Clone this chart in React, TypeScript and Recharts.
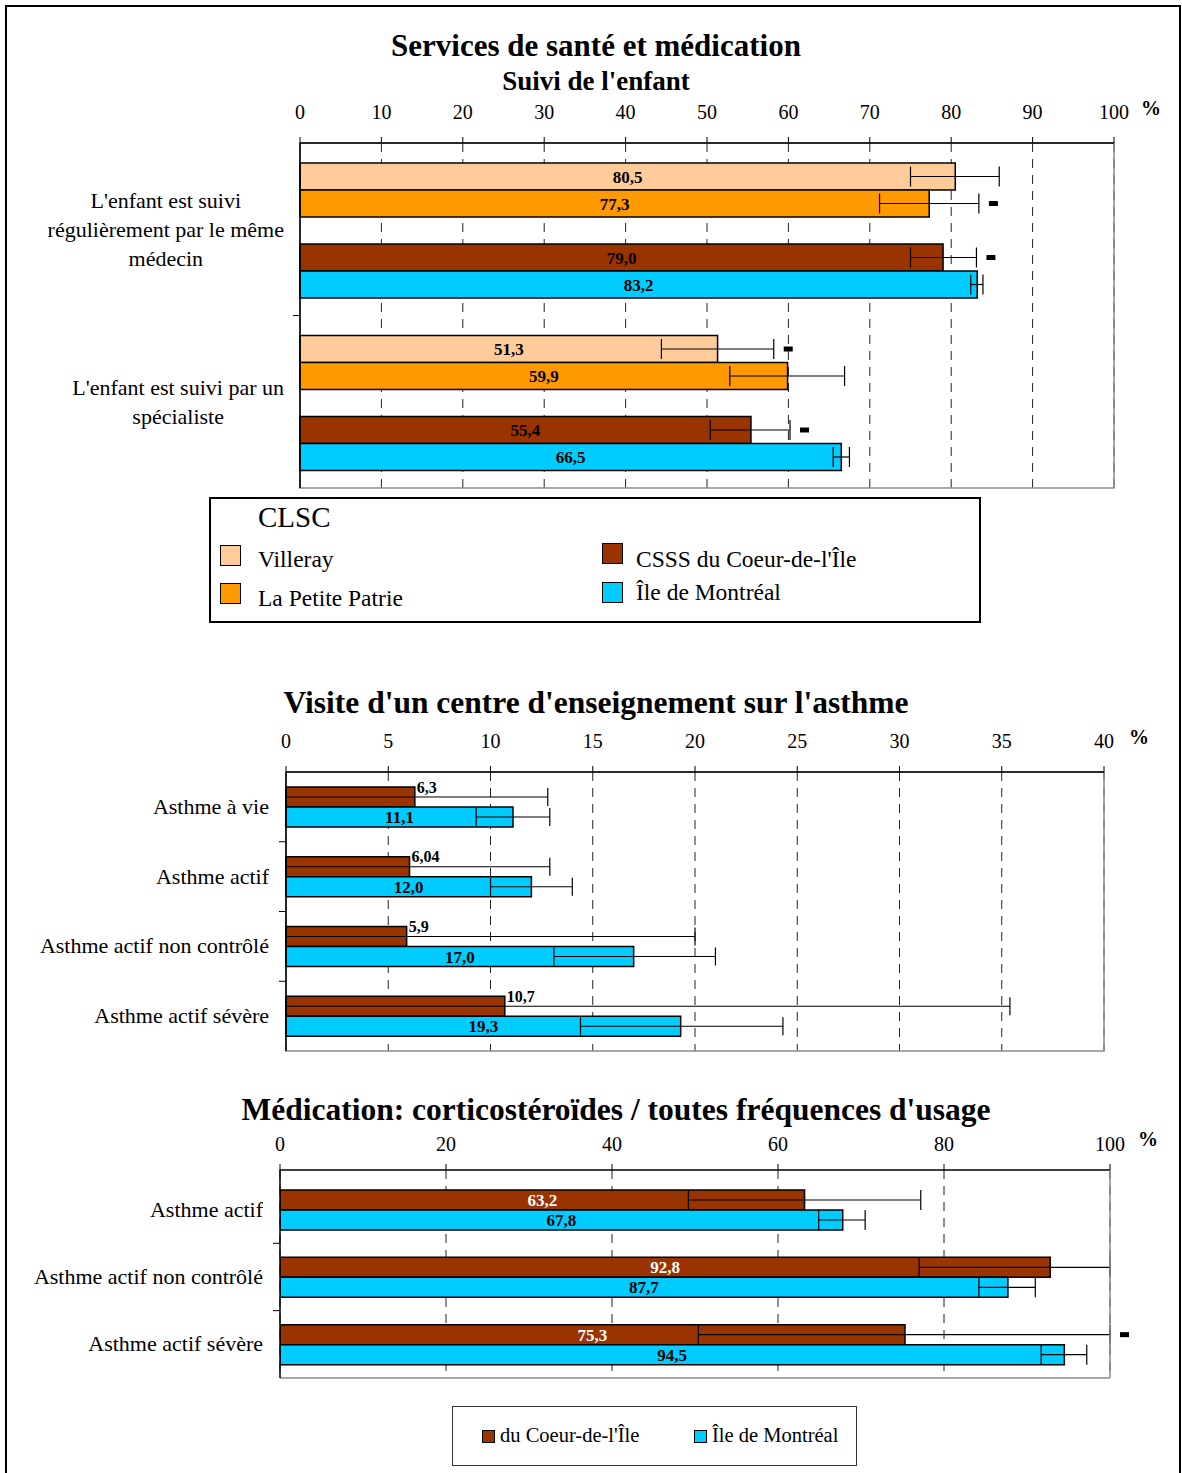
import React from "react";
import { BarChart, Bar, XAxis, YAxis, CartesianGrid, ErrorBar, LabelList, ReferenceArea } from "recharts";

const FONT = '"Liberation Serif", "Times New Roman", serif';

const C_VIL = "#FFCC99";
const C_LPP = "#FF9900";
const C_CSSS = "#993300";
const C_MTL = "#00CCFF";

// --- Suivi de l'enfant ---
const suiviCats = ["L'enfant est suivi\nrégulièrement par le même\nmédecin", "L'enfant est suivi par un\nspécialiste"];
const suiviTicks = [0, 10, 20, 30, 40, 50, 60, 70, 80, 90, 100];
const villeray = [80.5, 51.3];
const villerayLow = [75.0, 44.4];
const villerayHigh = [85.9, 58.2];
const villeraySig = [false, true];
const petitePatrie = [77.3, 59.9];
const petitePatrieLow = [71.2, 52.8];
const petitePatrieHigh = [83.4, 66.9];
const petitePatrieSig = [true, false];
const csssSuivi = [79.0, 55.4];
const csssSuiviLow = [75.0, 50.4];
const csssSuiviHigh = [83.1, 60.2];
const csssSuiviSig = [true, true];
const mtlSuivi = [83.2, 66.5];
const mtlSuiviLow = [82.4, 65.5];
const mtlSuiviHigh = [83.9, 67.5];

// --- Centre d'enseignement sur l'asthme ---
const ensCats = ["Asthme à vie", "Asthme actif", "Asthme actif non contrôlé", "Asthme actif sévère"];
const ensTicks = [0, 5, 10, 15, 20, 25, 30, 35, 40];
const csssEns = [6.3, 6.04, 5.9, 10.7];
const csssEnsLow = [0, 0, 0, 0];
const csssEnsHigh = [12.8, 12.9, 20.0, 35.4];
const mtlEns = [11.1, 12.0, 17.0, 19.3];
const mtlEnsLow = [9.3, 10.0, 13.1, 14.4];
const mtlEnsHigh = [12.9, 14.0, 21.0, 24.3];

// --- Médication ---
const medCats = ["Asthme actif", "Asthme actif non contrôlé", "Asthme actif sévère"];
const medTicks = [0, 20, 40, 60, 80, 100];
const csssMed = [63.2, 92.8, 75.3];
const csssMedLow = [49.2, 77.0, 50.4];
const csssMedHigh = [77.2, 100.0, 100.0];
const csssMedSig = [false, false, true];
const mtlMed = [67.8, 87.7, 94.5];
const mtlMedLow = [64.9, 84.2, 91.7];
const mtlMedHigh = [70.5, 91.0, 97.2];

const err = (v: number[], lo: number[], hi: number[], i: number) => [v[i] - lo[i], hi[i] - v[i]];

const suiviRows = suiviCats.map((cat, i) => ({
  cat,
  vil: villeray[i], vilErr: err(villeray, villerayLow, villerayHigh, i), vilHigh: villerayHigh[i], vilSig: villeraySig[i],
  lpp: petitePatrie[i], lppErr: err(petitePatrie, petitePatrieLow, petitePatrieHigh, i), lppHigh: petitePatrieHigh[i], lppSig: petitePatrieSig[i],
  csss: csssSuivi[i], csssErr: err(csssSuivi, csssSuiviLow, csssSuiviHigh, i), csssHigh: csssSuiviHigh[i], csssSig: csssSuiviSig[i],
  mtl: mtlSuivi[i], mtlErr: err(mtlSuivi, mtlSuiviLow, mtlSuiviHigh, i),
}));

const ensRows = ensCats.map((cat, i) => ({
  cat,
  csss: csssEns[i], csssErr: err(csssEns, csssEnsLow, csssEnsHigh, i),
  mtl: mtlEns[i], mtlErr: err(mtlEns, mtlEnsLow, mtlEnsHigh, i),
}));

const medRows = medCats.map((cat, i) => ({
  cat,
  csss: csssMed[i], csssErr: err(csssMed, csssMedLow, csssMedHigh, i), csssHigh: csssMedHigh[i], csssSig: csssMedSig[i],
  mtl: mtlMed[i], mtlErr: err(mtlMed, mtlMedLow, mtlMedHigh, i),
}));

const fmt = (v: any) => {
  const n = Number(v);
  const s = Math.round(n * 10) === n * 10 ? n.toFixed(1) : String(n);
  return s.replace(".", ",");
};

const vbOf = (p: any) => (p.viewBox && p.viewBox.width !== undefined ? p.viewBox : p);

// small black dash after the error bar = significant difference
const sigMarker = (rows: any[], valKey: string, highKey: string, sigKey: string) => (p: any) => {
  const row = rows[p.index];
  if (!row || !row[sigKey]) return null;
  const vb = vbOf(p);
  const perUnit = vb.width / row[valKey];
  const endX = vb.x + row[highKey] * perUnit;
  return <rect x={endX + 10} y={vb.y + vb.height / 2 - 2.5} width={9} height={5} fill="#000" />;
};

// value written just past the end of the bar, near its top
const endLabel = (p: any) => {
  const vb = vbOf(p);
  return (
    <text x={vb.x + vb.width + 2} y={vb.y + 2} fontFamily={FONT} fontWeight="bold" fontSize={16} fill="#000" dominantBaseline="middle">
      {fmt(p.value)}
    </text>
  );
};

const CatTick = (props: any) => {
  const { x, y, payload, index, band, count, gap, lineHeight } = props;
  const w = 300;
  return (
    <g>
      <foreignObject x={x - w} y={y - 60} width={w - gap} height={120}>
        <div style={{ height: "100%", display: "flex", alignItems: "center", justifyContent: "flex-end" }}>
          <div style={{ textAlign: "center", whiteSpace: "pre-line", fontFamily: FONT, fontSize: 22, lineHeight: `${lineHeight}px`, color: "#000" }}>
            {payload.value}
          </div>
        </div>
      </foreignObject>
      {index < count - 1 && <line x1={x - 7} x2={x} y1={y + band / 2} y2={y + band / 2} stroke="#000" />}
    </g>
  );
};

const tickStyle = { fontSize: 20, fontFamily: FONT, fill: "#000" };
const inLabel = { fontFamily: FONT, fontWeight: "bold" as const, fontSize: 17 };
const frameLine = { stroke: "#8a8a8a", strokeWidth: 1.5 };

const abs = (left: number, top: number): React.CSSProperties => ({ position: "absolute", left, top });

export default function App() {
  return (
    <div style={{ position: "absolute", left: 0, top: 0, width: 1182, height: 1473, background: "#fff", overflow: "hidden", fontFamily: FONT }}>
      <div style={{ position: "absolute", left: 5, top: 5, width: 1172, height: 1480, border: "2px solid #000" }} />

      <div style={{ ...abs(0, 27), width: 1192, textAlign: "center", fontWeight: "bold", fontSize: 31, lineHeight: "38px" }}>Services de santé et médication</div>
      <div style={{ ...abs(0, 65), width: 1192, textAlign: "center", fontWeight: "bold", fontSize: 27, lineHeight: "32px" }}>Suivi de l'enfant</div>
      <div style={{ ...abs(1141, 97), fontWeight: "bold", fontSize: 20 }}>%</div>

      <div style={abs(0, 0)}>
        <BarChart width={1182} height={500} data={suiviRows} layout="vertical" margin={{ top: 103, right: 68, bottom: 12, left: 0 }} barCategoryGap={20} barGap={0}>
          <CartesianGrid horizontal={false} stroke="#222" strokeDasharray="9 7" />
          <ReferenceArea x1={0} x2={100} fill="none" stroke="#8a8a8a" strokeWidth={1.5} ifOverflow="visible" />
          <XAxis type="number" orientation="top" domain={[0, 100]} ticks={suiviTicks} height={40} tick={tickStyle} tickSize={6} tickMargin={18} axisLine={{ stroke: "#000", strokeWidth: 1.5 }} tickLine={{ stroke: "#000" }} />
          <YAxis type="category" dataKey="cat" width={300} axisLine={{ stroke: "#000", strokeWidth: 1.5 }} tickLine={false} tickSize={0} tickMargin={0}
            tick={(p: any) => <CatTick {...p} band={172.5} count={suiviCats.length} gap={16} lineHeight={29} />} />
          <Bar dataKey="vil" fill={C_VIL} stroke="#000" strokeWidth={1.5} isAnimationActive={false}>
            <ErrorBar dataKey="vilErr" direction="x" width={10} stroke="#000" strokeWidth={1.2} />
            <LabelList dataKey="vil" position="center" formatter={fmt} fill="#000" {...inLabel} />
            <LabelList dataKey="vilSig" content={sigMarker(suiviRows, "vil", "vilHigh", "vilSig")} />
          </Bar>
          <Bar dataKey="lpp" fill={C_LPP} stroke="#000" strokeWidth={1.5} isAnimationActive={false}>
            <ErrorBar dataKey="lppErr" direction="x" width={10} stroke="#000" strokeWidth={1.2} />
            <LabelList dataKey="lpp" position="center" formatter={fmt} fill="#000" {...inLabel} />
            <LabelList dataKey="lppSig" content={sigMarker(suiviRows, "lpp", "lppHigh", "lppSig")} />
          </Bar>
          <Bar dataKey="spacer" fill="none" isAnimationActive={false} />
          <Bar dataKey="csss" fill={C_CSSS} stroke="#000" strokeWidth={1.5} isAnimationActive={false}>
            <ErrorBar dataKey="csssErr" direction="x" width={10} stroke="#000" strokeWidth={1.2} />
            <LabelList dataKey="csss" position="center" formatter={fmt} fill="#000" {...inLabel} />
            <LabelList dataKey="csssSig" content={sigMarker(suiviRows, "csss", "csssHigh", "csssSig")} />
          </Bar>
          <Bar dataKey="mtl" fill={C_MTL} stroke="#000" strokeWidth={1.5} isAnimationActive={false}>
            <ErrorBar dataKey="mtlErr" direction="x" width={10} stroke="#000" strokeWidth={1.2} />
            <LabelList dataKey="mtl" position="center" formatter={fmt} fill="#000" {...inLabel} />
          </Bar>
        </BarChart>
      </div>

      {/* legend CLSC */}
      <div style={{ ...abs(209, 497), width: 768, height: 122, border: "2px solid #000" }} />
      <div style={{ ...abs(258, 500), fontSize: 29, lineHeight: "34px" }}>CLSC</div>
      <div style={{ ...abs(220, 545), width: 19, height: 19, background: C_VIL, border: "1.5px solid #000" }} />
      <div style={{ ...abs(258, 544), fontSize: 23.5, lineHeight: "30px" }}>Villeray</div>
      <div style={{ ...abs(220, 583), width: 19, height: 19, background: C_LPP, border: "1.5px solid #000" }} />
      <div style={{ ...abs(258, 583), fontSize: 23.5, lineHeight: "30px" }}>La Petite Patrie</div>
      <div style={{ ...abs(602, 543), width: 19, height: 19, background: C_CSSS, border: "1.5px solid #000" }} />
      <div style={{ ...abs(636, 544), fontSize: 23.5, lineHeight: "30px" }}>CSSS du Coeur-de-l'Île</div>
      <div style={{ ...abs(602, 582), width: 19, height: 19, background: C_MTL, border: "1.5px solid #000" }} />
      <div style={{ ...abs(636, 577), fontSize: 23.5, lineHeight: "30px" }}>Île de Montréal</div>

      <div style={{ ...abs(0, 683), width: 1192, textAlign: "center", fontWeight: "bold", fontSize: 31.5, lineHeight: "40px" }}>Visite d'un centre d'enseignement sur l'asthme</div>
      <div style={{ ...abs(1129, 726), fontWeight: "bold", fontSize: 20 }}>%</div>

      <div style={abs(0, 700)}>
        <BarChart width={1182} height={360} data={ensRows} layout="vertical" margin={{ top: 32, right: 78, bottom: 9, left: 0 }} barCategoryGap={15} barGap={0}>
          <CartesianGrid horizontal={false} stroke="#222" strokeDasharray="9 7" />
          <ReferenceArea x1={0} x2={40} fill="none" stroke="#8a8a8a" strokeWidth={1.5} ifOverflow="visible" />
          <XAxis type="number" orientation="top" domain={[0, 40]} ticks={ensTicks} height={40} tick={tickStyle} tickSize={6} tickMargin={18} axisLine={{ stroke: "#000", strokeWidth: 1.5 }} tickLine={{ stroke: "#000" }} />
          <YAxis type="category" dataKey="cat" width={286} axisLine={{ stroke: "#000", strokeWidth: 1.5 }} tickLine={false} tickSize={0} tickMargin={0}
            tick={(p: any) => <CatTick {...p} band={69.75} count={ensCats.length} gap={17} lineHeight={28} />} />
          <Bar dataKey="csss" fill={C_CSSS} stroke="#000" strokeWidth={1.5} isAnimationActive={false}>
            <ErrorBar dataKey="csssErr" direction="x" width={9} stroke="#000" strokeWidth={1.2} />
            <LabelList dataKey="csss" content={endLabel} />
          </Bar>
          <Bar dataKey="mtl" fill={C_MTL} stroke="#000" strokeWidth={1.5} isAnimationActive={false}>
            <ErrorBar dataKey="mtlErr" direction="x" width={9} stroke="#000" strokeWidth={1.2} />
            <LabelList dataKey="mtl" position="center" formatter={fmt} fill="#000" {...inLabel} />
          </Bar>
        </BarChart>
      </div>

      <div style={{ ...abs(0, 1090), width: 1232, textAlign: "center", fontWeight: "bold", fontSize: 31.5, lineHeight: "40px" }}>Médication: corticostéroïdes / toutes fréquences d'usage</div>
      <div style={{ ...abs(1138, 1128), fontWeight: "bold", fontSize: 20 }}>%</div>

      <div style={abs(0, 1125)}>
        <BarChart width={1182} height={265} data={medRows} layout="vertical" margin={{ top: 5, right: 71, bottom: 11, left: 0 }} barCategoryGap={14} barGap={0}>
          <CartesianGrid horizontal={false} stroke="#222" strokeDasharray="9 7" />
          <XAxis type="number" orientation="top" domain={[0, 100]} allowDataOverflow ticks={medTicks} height={40} tick={tickStyle} tickSize={6} tickMargin={13} axisLine={{ stroke: "#000", strokeWidth: 1.5 }} tickLine={{ stroke: "#000" }} />
          <XAxis xAxisId="b" type="number" orientation="bottom" domain={[0, 100]} height={1} tick={false} tickLine={false} axisLine={frameLine} />
          <YAxis type="category" dataKey="cat" width={280} padding={{ top: 6, bottom: 0 }} axisLine={{ stroke: "#000", strokeWidth: 1.5 }} tickLine={false} tickSize={0} tickMargin={0}
            tick={(p: any) => <CatTick {...p} band={67.3} count={medCats.length} gap={17} lineHeight={28} />} />
          <YAxis yAxisId="r" orientation="right" type="number" width={1} tick={false} tickLine={false} axisLine={frameLine} />
          <Bar dataKey="csss" fill={C_CSSS} stroke="#000" strokeWidth={1.5} isAnimationActive={false}>
            <ErrorBar dataKey="csssErr" direction="x" width={10} stroke="#000" strokeWidth={1.2} />
            <LabelList dataKey="csss" position="center" formatter={fmt} fill="#fff" {...inLabel} />
            <LabelList dataKey="csssSig" content={sigMarker(medRows, "csss", "csssHigh", "csssSig")} />
          </Bar>
          <Bar dataKey="mtl" fill={C_MTL} stroke="#000" strokeWidth={1.5} isAnimationActive={false}>
            <ErrorBar dataKey="mtlErr" direction="x" width={10} stroke="#000" strokeWidth={1.2} />
            <LabelList dataKey="mtl" position="center" formatter={fmt} fill="#000" {...inLabel} />
          </Bar>
        </BarChart>
      </div>

      {/* legend bottom */}
      <div style={{ ...abs(452, 1406), width: 403, height: 58, border: "1px solid #333" }} />
      <div style={{ ...abs(482, 1430), width: 11, height: 11, background: C_CSSS, border: "1px solid #000" }} />
      <div style={{ ...abs(500, 1422), fontSize: 20.5, lineHeight: "26px" }}>du Coeur-de-l'Île</div>
      <div style={{ ...abs(694, 1430), width: 11, height: 11, background: C_MTL, border: "1px solid #000" }} />
      <div style={{ ...abs(712, 1422), fontSize: 20.5, lineHeight: "26px" }}>Île de Montréal</div>
    </div>
  );
}
